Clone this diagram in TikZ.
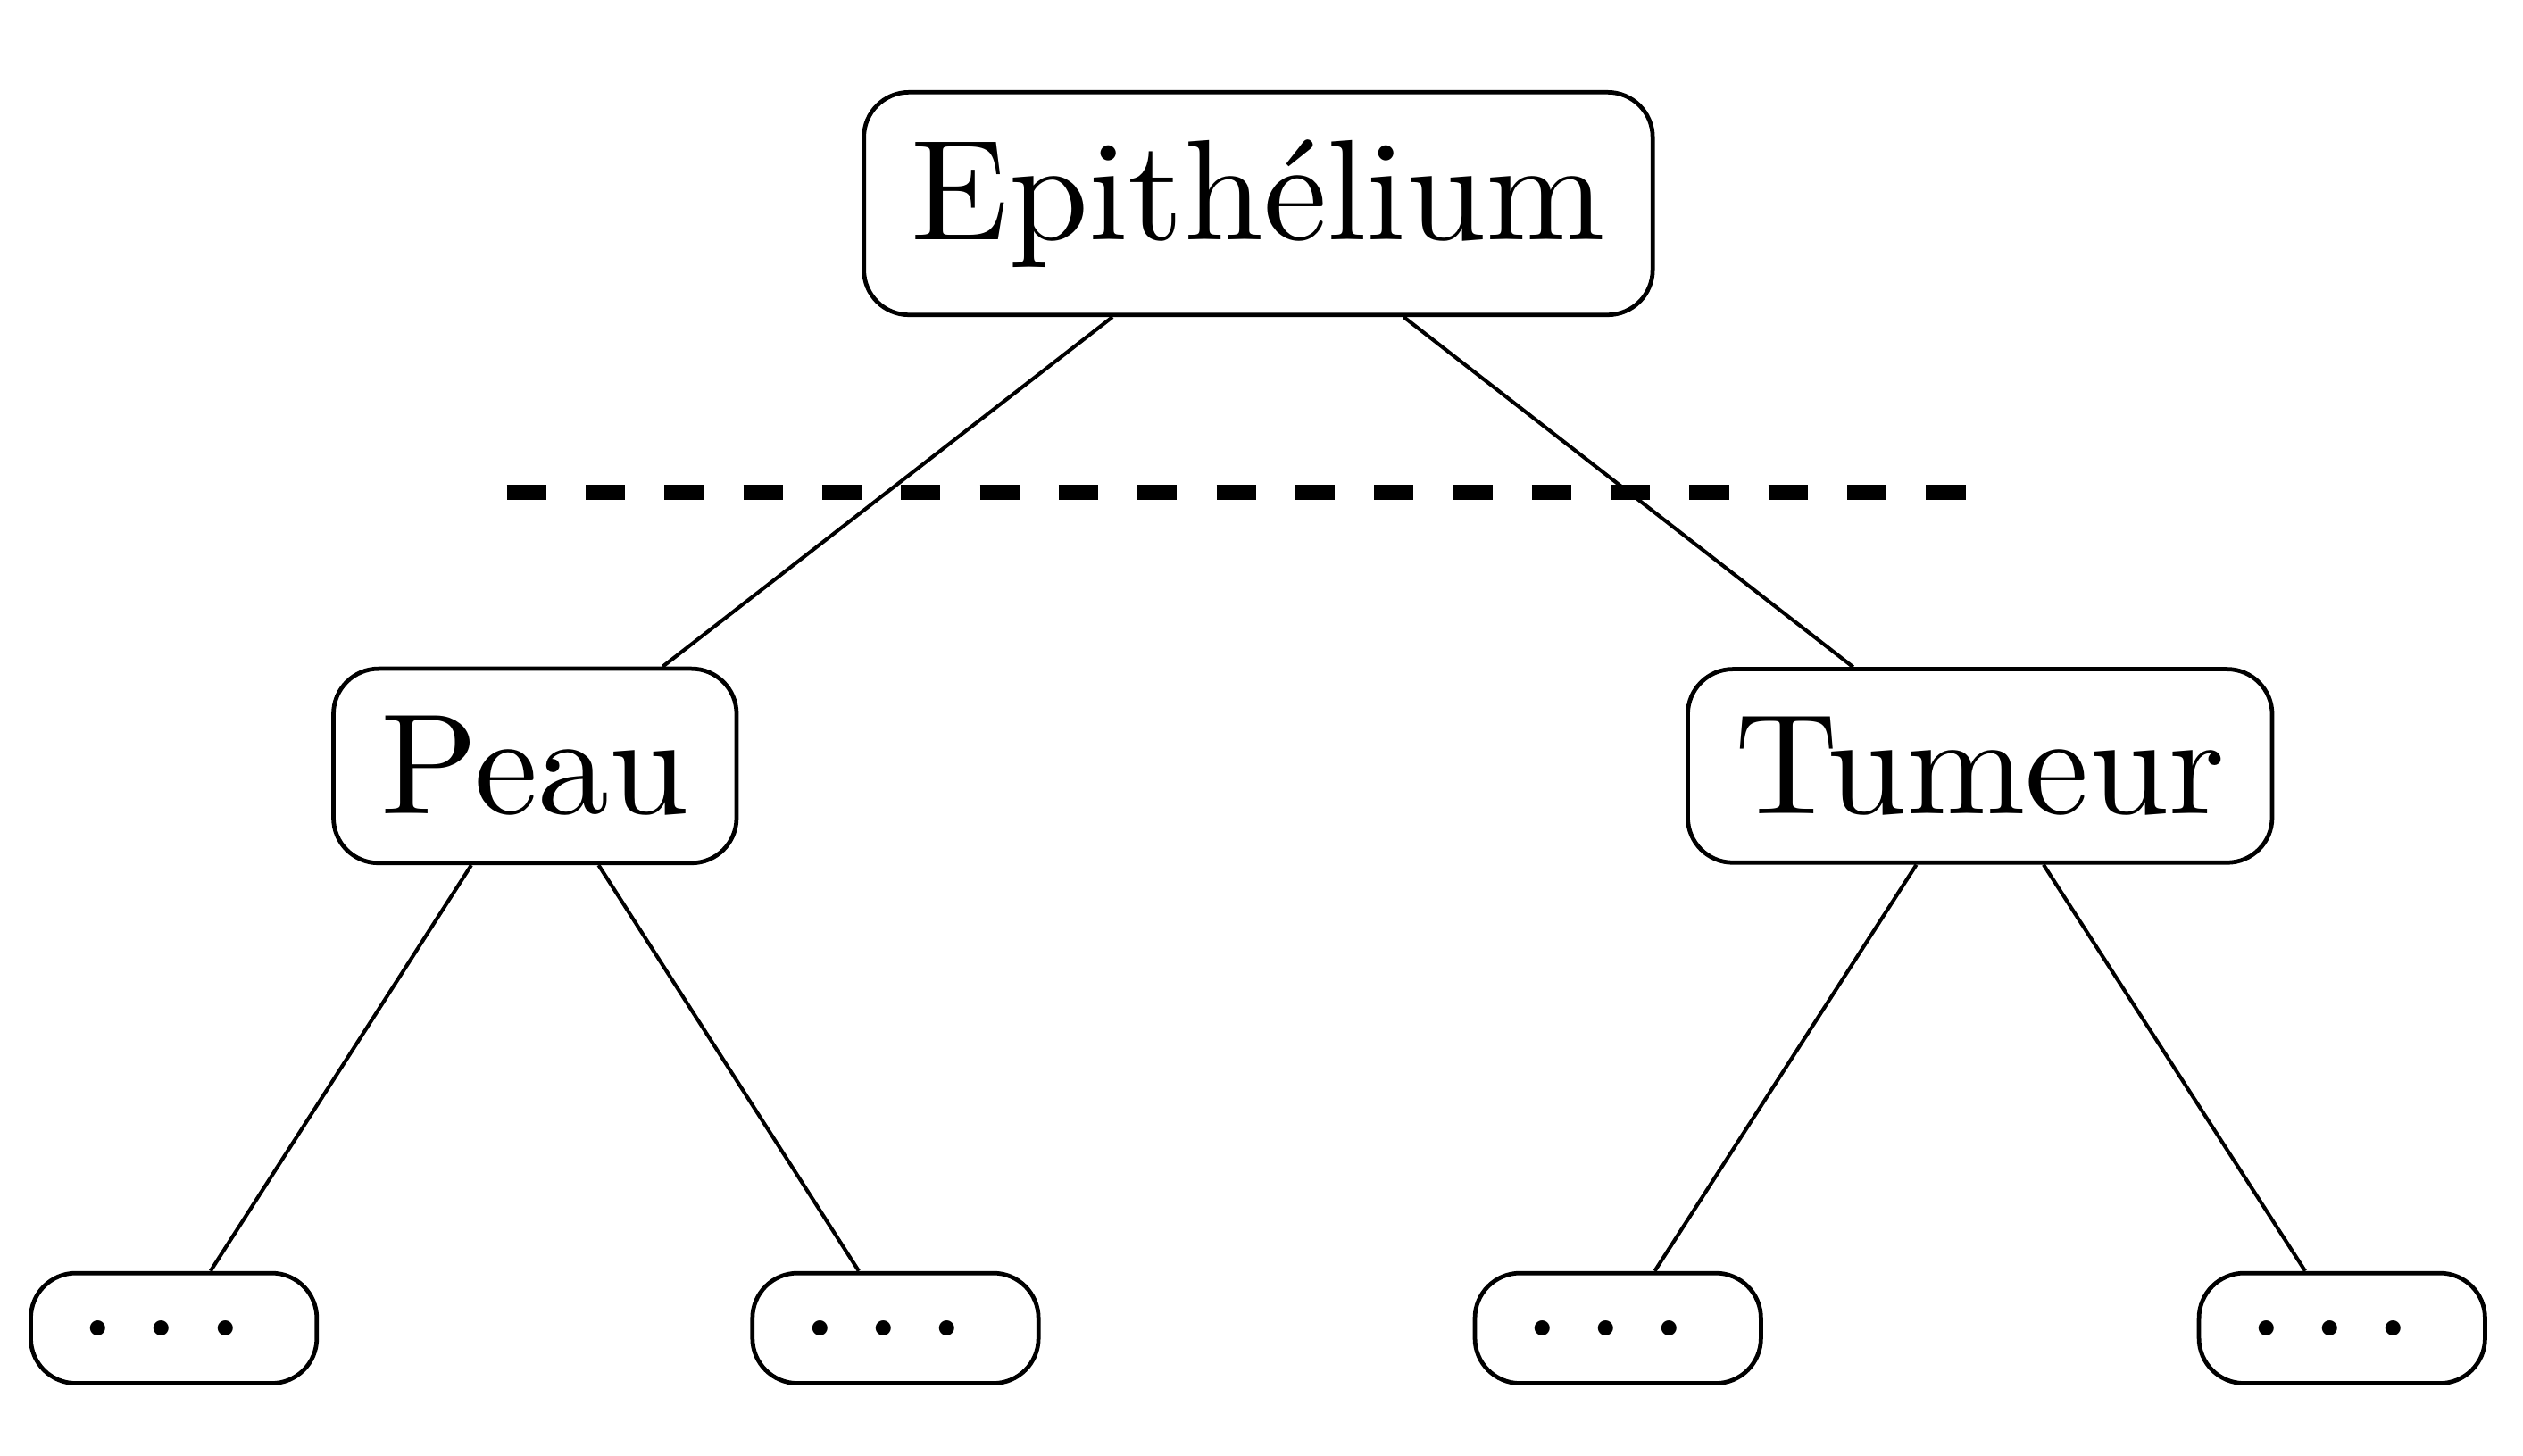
\documentclass[tikz,border=0pt]{standalone}
\newcommand{\bigtxt}[1]{\scalebox{2.53}{#1}}
\newcommand{\threedots}{.\kern1.67pt.\kern1.67pt.\kern1.67pt}
\tikzset{
  treebox/.style={draw, line width=0.75pt, rounded corners=0.28cm, inner sep=8.4pt},
  edgeline/.style={line width=0.65pt},
  cutline/.style={line width=2.8pt, dash pattern=on 0.245cm off 0.245cm}
}
\begin{document}
\begin{tikzpicture}
\useasboundingbox (0,0) rectangle (15.68,-9.044);
\node[treebox] (epi) at (7.82,-1.265) {\bigtxt{Epithélium}};
\node[treebox] (peau) at (3.325,-4.76) {\bigtxt{Peau}};
\node[treebox] (tum) at (12.305,-4.76) {\bigtxt{Tumeur}};
\node[treebox] (l1) at (1.08,-8.255) {\bigtxt{\threedots}};
\node[treebox] (l2) at (5.565,-8.255) {\bigtxt{\threedots}};
\node[treebox] (l3) at (10.055,-8.255) {\bigtxt{\threedots}};
\node[treebox] (l4) at (14.555,-8.255) {\bigtxt{\threedots}};
\draw[edgeline] (epi) -- (peau);
\draw[edgeline] (epi) -- (tum);
\draw[edgeline] (peau) -- (l1);
\draw[edgeline] (peau) -- (l2);
\draw[edgeline] (tum) -- (l3);
\draw[edgeline] (tum) -- (l4);
\coordinate (cutL) at (3.15,-3.06);
\coordinate (cutR) at (12.25,-3.06);
\draw[cutline] (cutL) -- (cutR);
\end{tikzpicture}
\end{document}
